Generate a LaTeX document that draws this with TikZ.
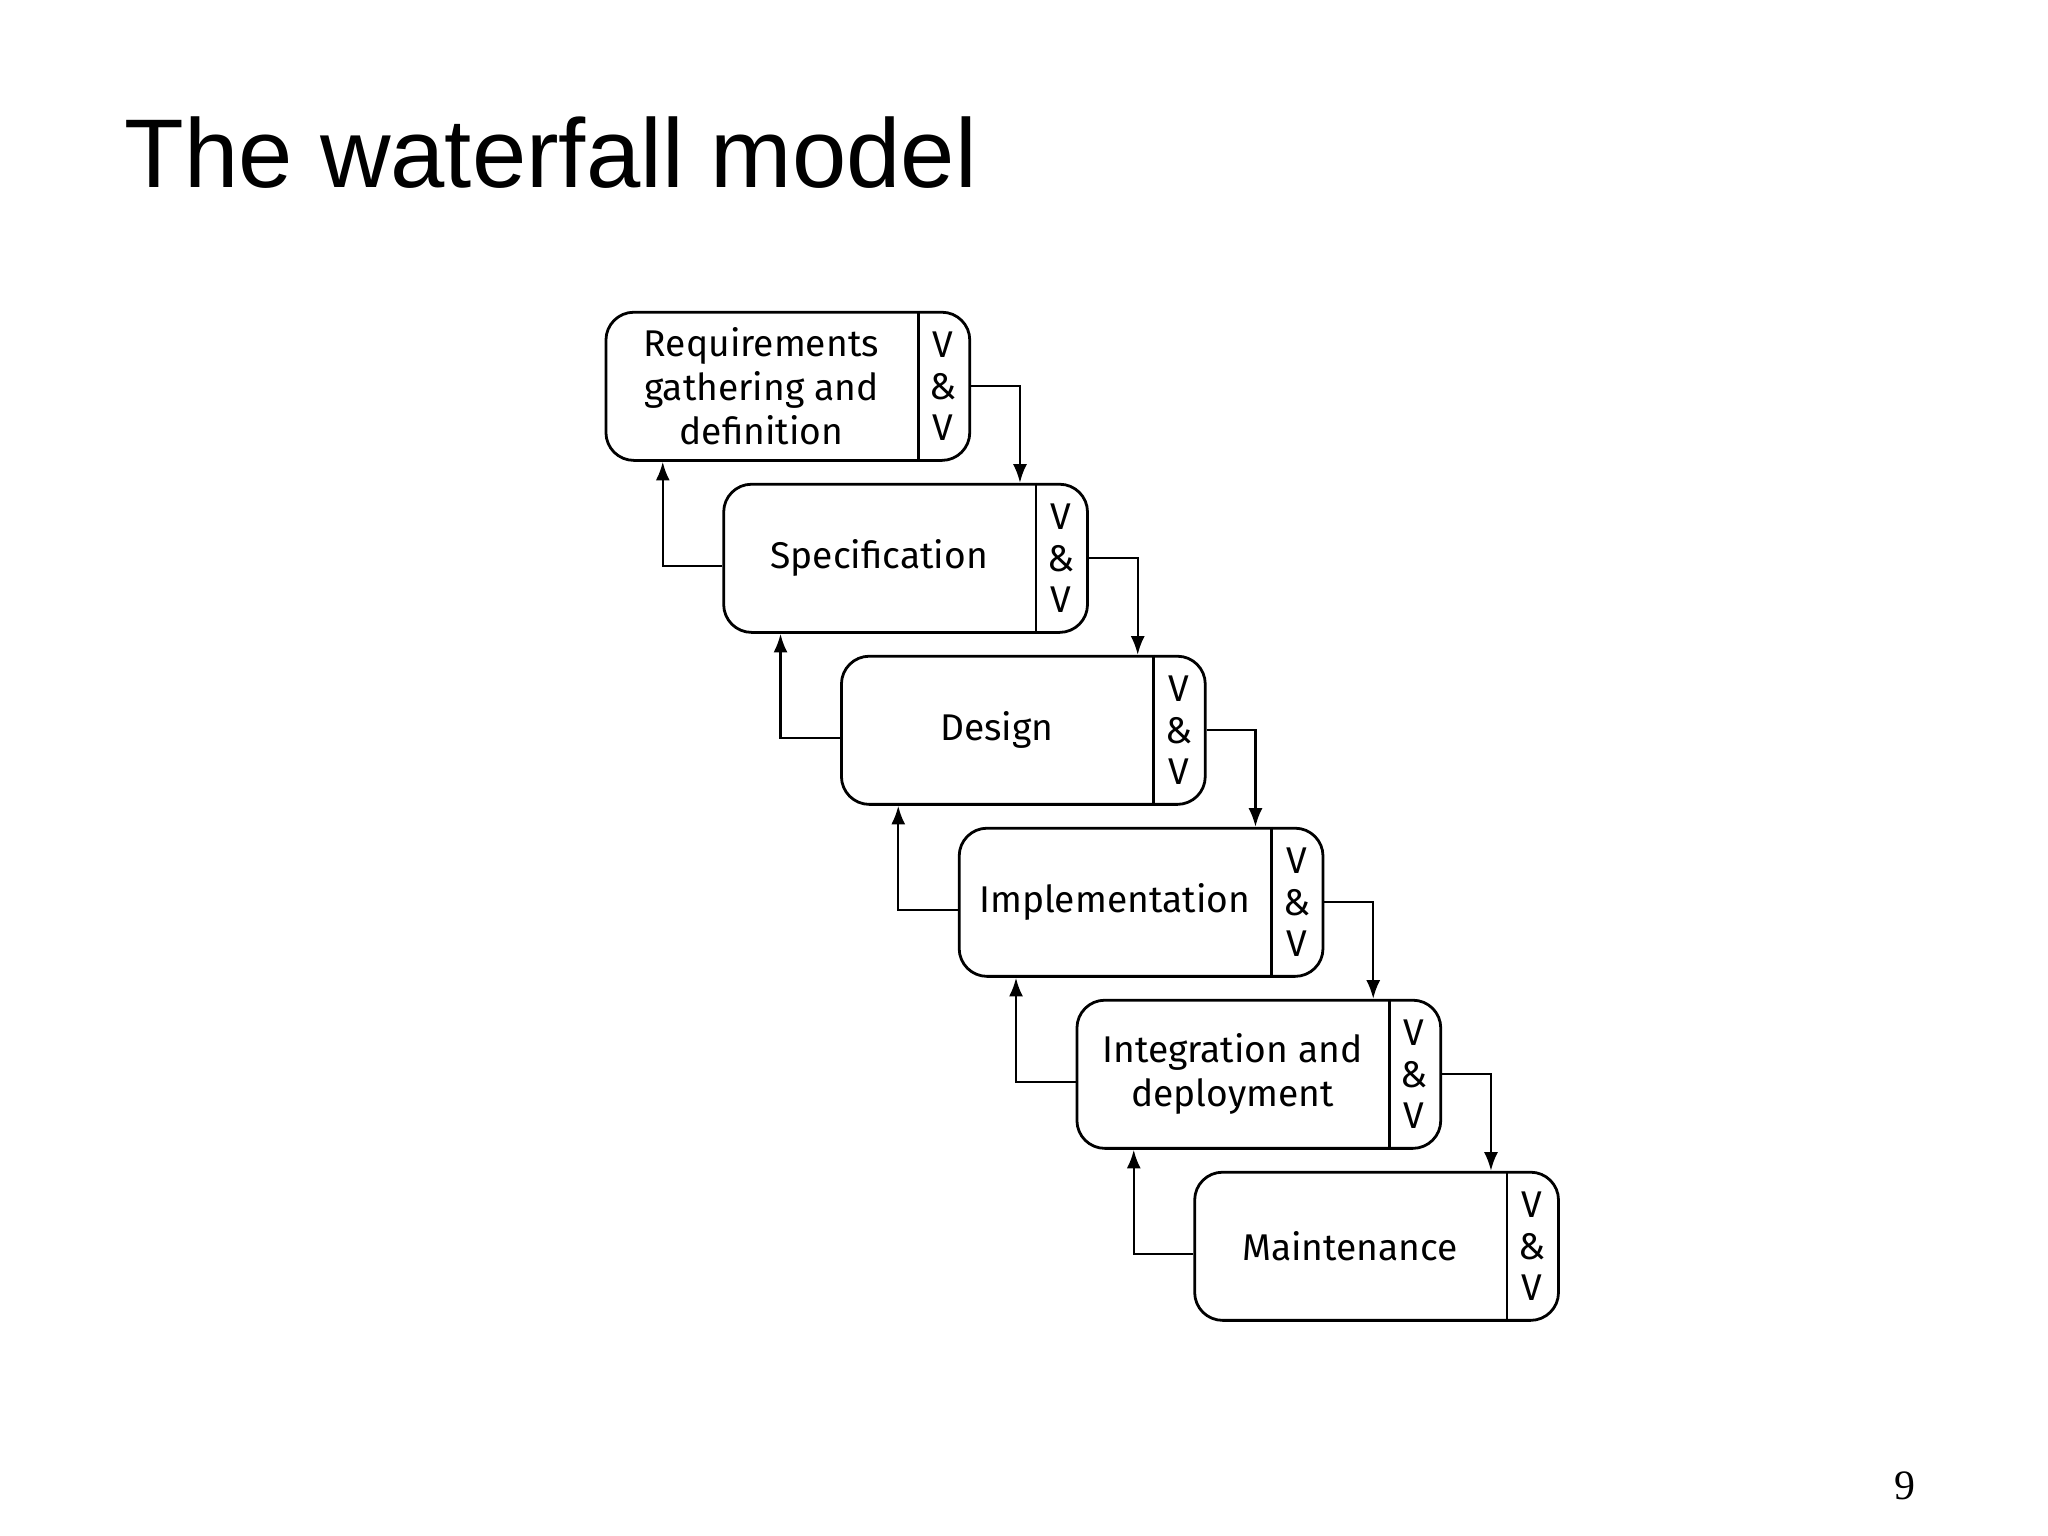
\documentclass[tikz,border=0pt]{standalone}
\usepackage{fontspec}
\setmainfont{Liberation Sans}
\newfontfamily\boxfont{Fira Sans}
\newfontfamily\numfont{Liberation Serif}
\usetikzlibrary{calc,arrows.meta}
\tikzset{
  phase/.style={draw, line width=0.6pt, rounded corners=6pt, minimum width=2.75cm, minimum height=1.12cm, inner sep=0pt},
  label/.style={font=\boxfont\fontsize{8}{9.5}\selectfont, align=center, inner sep=0pt},
  vv/.style={font=\boxfont\fontsize{8}{9}\selectfont, align=center, inner sep=0pt},
  flow/.style={draw, line width=0.5pt, -{Latex[length=4pt,width=3pt]}}
}
\begin{document}
\begin{tikzpicture}
\useasboundingbox (0,0) rectangle (15.48,-11.61);
\node[anchor=base west, font=\fontsize{21}{24}\selectfont] (title) at (0.82,-1.42) {The waterfall model};
\node[font=\numfont\fontsize{9}{10}\selectfont] (page) at (14.4,-11.23) {9};
\foreach \i/\txt in {1/{Requirements\\gathering and\\definition},2/Specification,3/Design,4/Implementation,5/{Integration and\\deployment},6/Maintenance}{
  \node[phase] (r\i) at ({5.955+0.89*(\i-1)},{-2.92-1.30*(\i-1)}) {};
  \draw[line width=0.6pt] ($(r\i.north east)+(-0.40,0)$) -- ($(r\i.south east)+(-0.40,0)$);
  \node[label] (t\i) at ($(r\i.center)+(-0.20,0)$) {\txt};
  \node[vv] (v\i) at ($(r\i.center)+(1.175,0)$) {V\\\&\\V};
}
% forward and back arrows
\foreach \i [evaluate=\i as \j using int(\i+1)] in {1,...,5}{
  \draw[flow] (r\i.east) -| ($(r\j.north west)+(2.25,0)$);
  \draw[flow] ($(r\j.west)+(0,-0.06)$) -| ($(r\i.south west)+(0.44,0)$);
}
\end{tikzpicture}
\end{document}
